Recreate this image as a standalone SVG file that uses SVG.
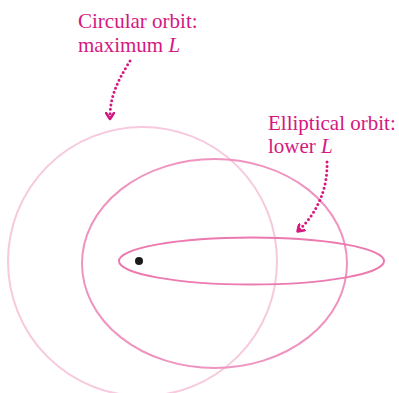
<svg xmlns="http://www.w3.org/2000/svg" width="399" height="393" viewBox="0 0 399 393">
<defs>
<style>
.lbl{font-family:"Liberation Serif","Times New Roman",serif;font-size:21px;fill:#d4187f}
.it{font-style:italic}
.dot{fill:none;stroke:#d4187f;stroke-width:3;stroke-linecap:round;stroke-dasharray:0 4.4}
.orbit{fill:none;stroke-width:2}
</style>
<marker id="ah" viewBox="0 0 10 10" refX="5" refY="5" markerWidth="10" markerHeight="10" markerUnits="userSpaceOnUse" orient="auto">
<path d="M1,1 L7,5 L1,9" fill="none" stroke="#d4187f" stroke-width="2.6" stroke-linecap="round" stroke-linejoin="round"/>
</marker>
</defs>
<rect width="399" height="393" fill="#fff"/>
<g id="circular-orbit"><circle class="orbit" cx="142.5" cy="261.5" r="134.5" stroke="#f7c9de"/></g>
<g id="elliptical-orbit"><ellipse class="orbit" cx="214.5" cy="263.5" rx="132.5" ry="104.5" stroke="#ef93bf"/></g>
<g id="flat-orbit"><ellipse class="orbit" cx="251.5" cy="261" rx="132.5" ry="23.5" stroke="#ec7ab0"/></g>
<g id="sun"><circle cx="139" cy="261" r="4" fill="#1a1a1a"/></g>
<g id="label-circular">
<text class="lbl" x="78" y="28">Circular orbit:</text>
<text class="lbl" x="78" y="52">maximum <tspan class="it">L</tspan></text>
</g>
<g id="label-elliptical">
<text class="lbl" x="268" y="130">Elliptical orbit:</text>
<text class="lbl" x="268" y="153">lower <tspan class="it">L</tspan></text>
</g>
<g id="connectors">
<path class="dot" d="M130,61 C118,80 110,96 110,117" marker-end="url(#ah)"/>
<path class="dot" d="M327,162 C328,190 316,214 299,230" marker-end="url(#ah)"/>
</g>
</svg>
